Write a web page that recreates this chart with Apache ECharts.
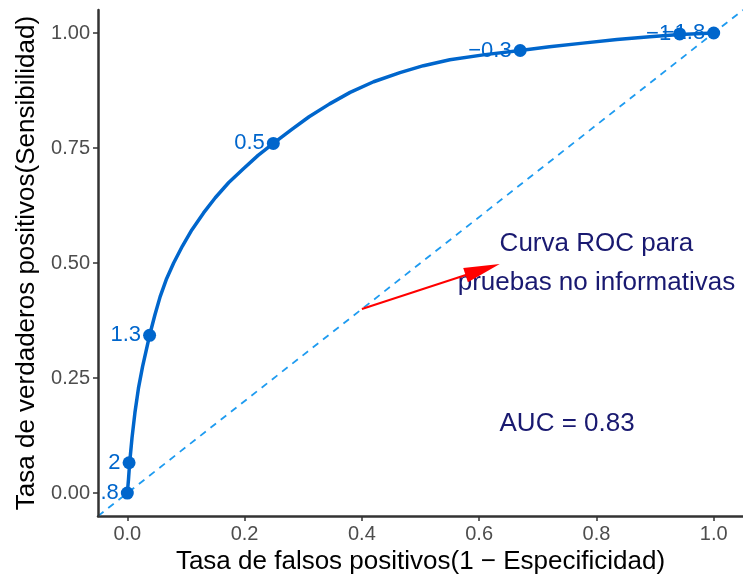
<!DOCTYPE html>
<html lang="es">
<head>
    <meta charset="UTF-8" />
    <title>Curva ROC</title>
    <script src="https://cdn.jsdelivr.net/npm/echarts@6.0.0/dist/echarts.min.js"></script>
</head>
<body style="margin: 0; background: #fff;">
    <div id="main" style="width: 743px; height: 580px"></div>
    <script>
        // puntos de corte (umbral) sobre la curva
        var cutX = [0, 0.003, 0.038, 0.249, 0.670, 0.942, 1.0];
        var cutY = [0, 0.066, 0.343, 0.760, 0.962, 0.998, 1.0];
        var cutLabels = ['.8', '2', '1.3', '0.5', '\u22120.3', '\u22121', '\u22121.8'];

        // curva ROC suavizada
        var curveX = [0, 0.002, 0.004, 0.008, 0.013, 0.019, 0.026, 0.038, 0.047, 0.056, 0.067, 0.079, 0.094, 0.110, 0.130, 0.150, 0.173, 0.198, 0.223, 0.249, 0.280, 0.310, 0.345, 0.380, 0.420, 0.465, 0.505, 0.550, 0.610, 0.670, 0.720, 0.777, 0.835, 0.891, 0.942, 1.0];
        var curveY = [0, 0.030, 0.066, 0.120, 0.175, 0.228, 0.275, 0.343, 0.387, 0.427, 0.466, 0.500, 0.537, 0.572, 0.609, 0.642, 0.675, 0.705, 0.734, 0.760, 0.790, 0.818, 0.846, 0.871, 0.894, 0.914, 0.929, 0.942, 0.953, 0.962, 0.970, 0.978, 0.986, 0.992, 0.997, 1.0];

        // diagonal (prueba no informativa)
        var diagX = [-0.05, 1.05];
        var diagY = [-0.05, 1.05];

        // flecha y anotaciones
        var arrowFrom = [0.4, 0.4];
        var arrowTo = [0.606, 0.486];
        var noteText = 'Curva ROC para\npruebas no informativas';
        var notePos = [0.8, 0.5];
        var aucText = 'AUC = 0.83';
        var aucPos = [0.75, 0.15];

        var xTicks = [0, 0.2, 0.4, 0.6, 0.8, 1.0];
        var yTicks = [0, 0.25, 0.5, 0.75, 1.0];

        var font = 'Liberation Sans, Arial, sans-serif';
        var blue = '#0066cc';

        function zip(a, b) {
            return a.map(function (v, i) { return [v, b[i]]; });
        }

        var myChart = echarts.init(document.getElementById('main'));

        var option = {
            animation: false,
            grid: { left: 98, right: 0, top: 10, bottom: 58 },
            xAxis: {
                type: 'value',
                min: -0.05,
                max: 1.05,
                splitLine: { show: false },
                axisLine: { onZero: false, lineStyle: { color: '#333', width: 2.5 } },
                axisTick: { customValues: xTicks, length: 5, lineStyle: { color: '#333', width: 1.5 } },
                axisLabel: {
                    customValues: xTicks,
                    formatter: function (v) { return v.toFixed(1); },
                    color: '#4d4d4d', fontSize: 20, fontFamily: font, margin: 8
                },
                name: 'Tasa de falsos positivos(1 \u2212 Especificidad)',
                nameLocation: 'middle',
                nameGap: 26,
                nameTextStyle: { color: '#000', fontSize: 26, fontFamily: font }
            },
            yAxis: {
                type: 'value',
                min: -0.05,
                max: 1.05,
                z: 5,
                splitLine: { show: false },
                axisLine: { onZero: false, lineStyle: { color: '#333', width: 2.5 } },
                axisTick: { customValues: yTicks, length: 5, lineStyle: { color: '#333', width: 1.5 } },
                axisLabel: {
                    customValues: yTicks,
                    formatter: function (v) { return v.toFixed(2); },
                    color: '#4d4d4d', fontSize: 20, fontFamily: font, margin: 8
                },
                name: 'Tasa de verdaderos positivos(Sensibilidad)',
                nameLocation: 'middle',
                nameGap: 54,
                nameTextStyle: { color: '#000', fontSize: 26, fontFamily: font }
            },
            // el panel recorta las etiquetas que salen por la izquierda
            graphic: [{
                type: 'rect',
                z: 4,
                shape: { x: 0, y: 480, width: 96, height: 40 },
                style: { fill: '#fff' }
            }],
            series: [
                {
                    type: 'line',
                    data: zip(diagX, diagY),
                    showSymbol: false,
                    lineStyle: { color: '#1e9bf0', width: 1.8, type: [7, 6] },
                    z: 1,
                    markLine: {
                        silent: true,
                        symbol: ['none', 'triangle'],
                        symbolSize: [15, 36],
                        lineStyle: { color: 'red', width: 2, type: 'solid' },
                        itemStyle: { color: 'red' },
                        label: { show: false },
                        data: [[{ coord: arrowFrom }, { coord: arrowTo }]]
                    }
                },
                {
                    // etiquetas de los cortes, debajo de la curva
                    type: 'scatter',
                    data: zip(cutX, cutY),
                    symbolSize: 13,
                    itemStyle: { color: 'rgba(0,0,0,0)' },
                    silent: true,
                    z: 1,
                    label: {
                        show: true,
                        position: 'left',
                        distance: 2,
                        color: blue,
                        opacity: 1,
                        fontSize: 22,
                        fontFamily: font,
                        formatter: function (p) { return cutLabels[p.dataIndex]; }
                    }
                },
                {
                    type: 'line',
                    data: zip(curveX, curveY),
                    showSymbol: false,
                    lineStyle: { color: blue, width: 3.5, join: 'round' },
                    z: 2
                },
                {
                    type: 'scatter',
                    data: zip(cutX, cutY),
                    symbolSize: 13,
                    itemStyle: { color: blue, opacity: 1 },
                    z: 3
                },
                {
                    type: 'scatter',
                    data: [notePos, aucPos],
                    symbolSize: 0,
                    silent: true,
                    itemStyle: { opacity: 1 },
                    label: {
                        show: true,
                        position: 'inside',
                        color: '#191970',
                        opacity: 1,
                        fontSize: 26,
                        lineHeight: 39,
                        fontFamily: font,
                        align: 'center',
                        formatter: function (p) { return p.dataIndex === 0 ? noteText : aucText; }
                    }
                }
            ]
        };

        myChart.setOption(option);
    </script>
</body>
</html>
